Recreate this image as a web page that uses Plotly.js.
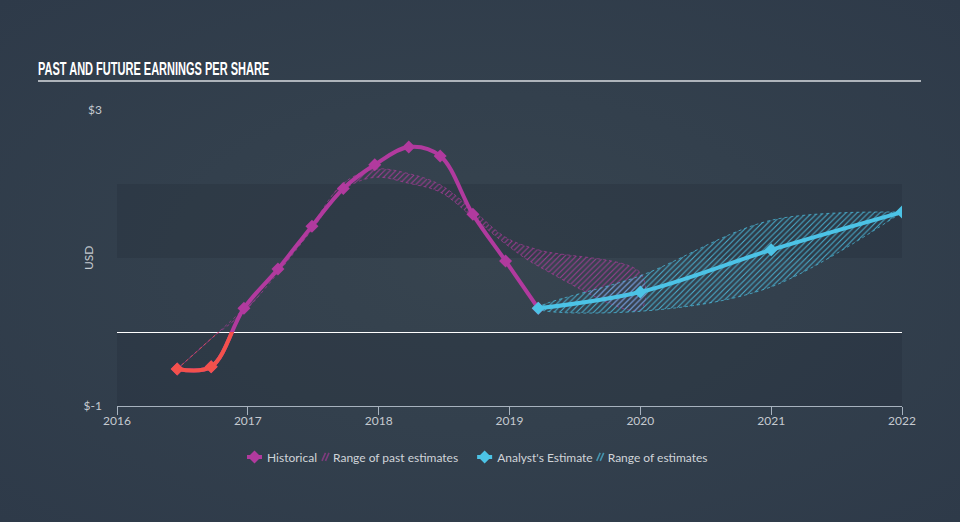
<!DOCTYPE html>
<html>
<head>
<meta charset="utf-8">
<script src="https://cdn.plot.ly/plotly-3.0.1.min.js"></script>
<style>
  html, body { margin: 0; padding: 0; }
  body { width: 960px; height: 522px; overflow: hidden;
    background: radial-gradient(ellipse at 50% 50%, #37444f 0%, #33404d 45%, #2e3a49 100%); }
  #chart { width: 960px; height: 522px; }
  #chart .gtitle { transform-box: fill-box; transform-origin: 0% 50%; transform: scaleX(0.58); }
</style>
</head>
<body>
<div id="chart"></div>
<script>
// ---- Data ----
const histYears = [2016.46, 2016.72, 2016.97, 2017.23, 2017.49, 2017.73, 2017.97, 2018.23, 2018.47, 2018.72, 2018.97, 2019.22];
const histEps   = [-0.50, -0.47, 0.32, 0.85, 1.43, 1.94, 2.26, 2.50, 2.38, 1.59, 0.96, 0.32];

const pastRangeYears = [2016.46, 2016.72, 2016.97, 2017.23, 2017.49, 2017.73, 2017.97, 2018.23, 2018.47, 2018.72, 2018.97, 2019.22, 2020.0];
const pastRangeLow   = [-0.50, -0.09, 0.27, 0.80, 1.38, 1.92, 2.09, 2.01, 1.89, 1.55, 1.19, 0.89, 0.30];
const pastRangeHigh  = [-0.50, -0.09, 0.32, 0.86, 1.45, 2.01, 2.20, 2.14, 1.99, 1.65, 1.28, 1.11, 0.80];

const fcYears = [2019.22, 2020.0, 2021.0, 2022.0];
const fcEps   = [0.32, 0.54, 1.11, 1.62];
const fcLow   = [0.32, 0.28, 0.61, 1.62];
const fcHigh  = [0.32, 0.76, 1.51, 1.62];

const xTicks = [2016, 2017, 2018, 2019, 2020, 2021, 2022];
const yTickVals = [-1, 3];
const yTickText = ['$-1', '$3'];

// ---- Styles ----
const MAGENTA = '#b13a9e';
const RED = '#f4514b';
const CYAN = '#4cc3e6';

function band(xs, lo, hi) {
  return { x: xs.concat(xs.slice().reverse()), y: hi.concat(lo.slice().reverse()) };
}
const pastBand = band(pastRangeYears, pastRangeLow, pastRangeHigh);
const fcBand = band(fcYears, fcLow, fcHigh);

const traces = [
  { // range of past estimates
    x: pastBand.x, y: pastBand.y, type: 'scatter', mode: 'lines',
    fill: 'toself', name: 'Range of past estimates', legendrank: 2,
    line: { color: 'rgba(177,58,158,0.8)', width: 0.8, dash: 'dot', shape: 'spline' },
    fillcolor: 'rgba(0,0,0,0)',
    fillpattern: { shape: '/', fgcolor: 'rgba(177,58,158,0.85)', bgcolor: 'rgba(0,0,0,0)', size: 4, solidity: 0.25 },
    hoverinfo: 'skip'
  },
  { // range of estimates
    x: fcBand.x, y: fcBand.y, type: 'scatter', mode: 'lines',
    fill: 'toself', name: 'Range of estimates', legendrank: 4,
    line: { color: 'rgba(76,195,230,0.85)', width: 0.8, dash: 'dot', shape: 'spline' },
    fillcolor: 'rgba(0,0,0,0)',
    fillpattern: { shape: '/', fgcolor: 'rgba(76,195,230,0.85)', bgcolor: 'rgba(0,0,0,0)', size: 4, solidity: 0.25 },
    hoverinfo: 'skip'
  },
  { // historical
    x: histYears, y: histEps, type: 'scatter', mode: 'lines+markers',
    name: 'Historical', legendrank: 1,
    line: { color: MAGENTA, width: 4, shape: 'spline' },
    marker: { symbol: 'diamond', size: 10, color: MAGENTA }
  },
  { // analyst estimate
    x: fcYears, y: fcEps, type: 'scatter', mode: 'lines+markers',
    name: "Analyst's Estimate", legendrank: 3,
    line: { color: CYAN, width: 4, shape: 'spline' },
    marker: { symbol: 'diamond', size: 10, color: CYAN }
  },
  // negative part overlay (clipped to the y<0 strip)
  {
    x: pastRangeYears, y: pastRangeHigh, xaxis: 'x2', yaxis: 'y2', type: 'scatter', mode: 'lines',
    showlegend: false, hoverinfo: 'skip',
    line: { color: RED, width: 0.8, dash: 'dot', shape: 'spline' }
  },
  {
    x: histYears, y: histEps, xaxis: 'x2', yaxis: 'y2', type: 'scatter', mode: 'lines+markers',
    showlegend: false,
    line: { color: RED, width: 4, shape: 'spline' },
    marker: { symbol: 'diamond', size: 10, color: RED }
  }
];

const layout = {
  width: 960, height: 522,
  paper_bgcolor: 'rgba(0,0,0,0)', plot_bgcolor: 'rgba(0,0,0,0)',
  margin: { l: 117, r: 58, t: 110, b: 116 },
  font: { family: 'Lato, "Open Sans", sans-serif', color: '#c5cad0', size: 12 },
  title: {
    text: 'PAST AND FUTURE EARNINGS PER SHARE',
    font: { family: '"Liberation Sans", Arial, sans-serif', size: 19, color: '#ffffff', weight: 'bold' },
    xref: 'container', yref: 'container', x: 38 / 960, xanchor: 'left', y: 1 - 68 / 522, yanchor: 'middle'
  },
  xaxis: {
    range: [2016, 2022], tickvals: xTicks, ticktext: xTicks.map(String),
    showgrid: false, zeroline: false, showline: true, linecolor: '#a7b2be', linewidth: 1,
    ticks: 'outside', ticklen: 8, tickcolor: '#a7b2be', tickwidth: 1, ticklabelstandoff: -4,
    tickfont: { size: 12, color: '#c5cad0' }, fixedrange: true
  },
  yaxis: {
    range: [-1, 3], tickvals: yTickVals, ticktext: yTickText,
    showgrid: false, zeroline: true, zerolinecolor: '#ffffff', zerolinewidth: 1,
    showline: false, ticks: '', ticklabelstandoff: 14,
    tickfont: { size: 12, color: '#c5cad0' },
    fixedrange: true
  },
  xaxis2: { range: [2016, 2022], domain: [0, 1], anchor: 'y2', overlaying: 'x', visible: false, fixedrange: true },
  yaxis2: { range: [-1, 0], domain: [0, 0.25], anchor: 'x2', visible: false, fixedrange: true },
  annotations: [
    { text: 'USD', xref: 'paper', yref: 'paper', x: (88 - 117) / 785, y: (406 - 258) / 296,
      showarrow: false, textangle: -90, xanchor: 'center', yanchor: 'middle',
      font: { size: 12, color: '#c5cad0' } }
  ],
  shapes: [
    { type: 'rect', xref: 'paper', yref: 'y', x0: 0, x1: 1, y0: 1, y1: 2, fillcolor: 'rgba(30,40,52,0.25)', line: { width: 0 }, layer: 'below' },
    { type: 'rect', xref: 'paper', yref: 'y', x0: 0, x1: 1, y0: -1, y1: 0, fillcolor: 'rgba(30,40,52,0.25)', line: { width: 0 }, layer: 'below' },
    { type: 'line', xref: 'paper', yref: 'paper', x0: (38 - 117) / 785, x1: (921 - 117) / 785, y0: (406 - 81) / 296, y1: (406 - 81) / 296, line: { color: '#aeb4bb', width: 2 } }
  ],
  showlegend: true,
  legend: {
    orientation: 'h', x: 0.465, xanchor: 'center', y: -0.172, yanchor: 'middle',
    font: { size: 12, color: '#d0d4d9' }, bgcolor: 'rgba(0,0,0,0)', traceorder: 'normal',
    itemwidth: 30
  }
};

// Compact the legend entries (short symbols, tight gaps) like the reference.
function compactLegend(gd) {
  const items = Array.from(gd.querySelectorAll('.legend .traces'));
  if (!items.length) return;
  const parse = (el) => {
    const m = /translate\(\s*([-\d.]+)[ ,]+([-\d.]+)/.exec(el.getAttribute('transform') || '');
    return m ? [parseFloat(m[1]), parseFloat(m[2])] : [0, 0];
  };
  const first = items[0];
  const [fx] = parse(first);
  const groupOffset = first.getCTM().e - fx;
  const startAbs = 247;
  const gapsAfter = [4, 19, 3, 0];
  let cur = startAbs - groupOffset;
  items.forEach((it, i) => {
    const [, y] = parse(it);
    const fillPath = it.querySelector('.legendfill path');
    const linePath = it.querySelector('.legendlines path');
    const pts = it.querySelectorAll('.legendpoints path');
    const txt = it.querySelector('.legendtext');
    let symW, textX;
    if (fillPath) {
      fillPath.setAttribute('d', 'M0,0');
      if (linePath) {
        linePath.setAttribute('d', 'M1,4L4.5,-4M4.5,4L8,-4');
        linePath.style.strokeDasharray = 'none';
        linePath.style.strokeWidth = '1.6px';
        linePath.style.opacity = '0.75';
      }
      symW = 9; textX = 12;
    } else {
      if (linePath) linePath.setAttribute('d', 'M0,0h15');
      pts.forEach(p => {
        const t = p.getAttribute('transform') || '';
        p.setAttribute('transform', t.replace(/translate\([^)]*\)/, 'translate(7.5,0)'));
      });
      symW = 15; textX = 20;
    }
    if (txt) {
      txt.setAttribute('x', textX);
      txt.querySelectorAll('tspan').forEach(ts => { if (ts.hasAttribute('x')) ts.setAttribute('x', textX); });
    }
    it.setAttribute('transform', 'translate(' + cur + ',' + y + ')');
    const tw = txt ? txt.getComputedTextLength() : 0;
    cur += textX + tw + gapsAfter[i];
  });
}

Plotly.newPlot('chart', traces, layout, { displayModeBar: false, staticPlot: true })
  .then(compactLegend);
</script>
</body>
</html>
